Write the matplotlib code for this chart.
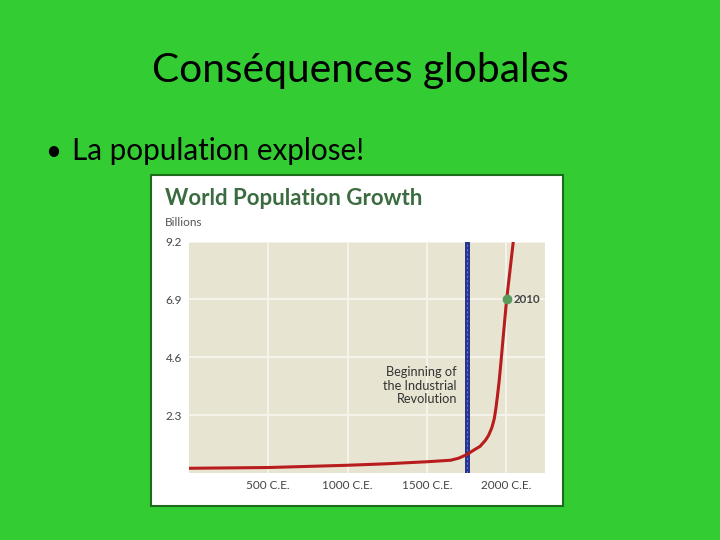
import matplotlib
matplotlib.use("Agg")
import matplotlib.pyplot as plt
from matplotlib.patches import Rectangle

# ---- data ----
years = [0, 500, 1000, 1250, 1500, 1650, 1700, 1750, 1800, 1835, 1870, 1890,
         1910, 1925, 1935, 1945, 1955, 1965, 1975, 1985, 1995, 2003, 2025, 2045]
population = [0.18, 0.21, 0.30, 0.36, 0.44, 0.50, 0.58, 0.72, 0.92, 1.05, 1.30,
              1.50, 1.80, 2.15, 2.55, 3.05, 3.60, 4.25, 4.95, 5.65, 6.35, 6.90,
              8.10, 9.20]
ytick_values = [2.3, 4.6, 6.9, 9.2]
ytick_labels = ["2.3", "4.6", "6.9", "9.2"]
xtick_values = [500, 1000, 1500, 2000]
xtick_labels = ["500 C.E.", "1000 C.E.", "1500 C.E.", "2000 C.E."]
industrial_year = 1750
marker_year = 2003
marker_value = 6.9
marker_label = "2010"

slide_title = "Conséquences globales"
bullet_text = "La population explose!"
chart_title = "World Population Growth"
unit_label = "Billions"
annotation = "Beginning of\nthe Industrial\nRevolution"

W, H = 720, 540
fig = plt.figure(figsize=(7.2, 5.4), dpi=100)
fig.patch.set_facecolor("#33cc33")

def fx(px):
    return px / W

def fy(py):
    return 1 - py / H

# slide texts
fig.text(fx(360), fy(82), slide_title, ha="center", va="baseline",
         fontsize=29.3, family="Lato", color="black")
fig.text(fx(45), fy(160), "•", ha="left", va="baseline", fontsize=20,
         family="Lato", color="black")
fig.text(fx(72), fy(160), bullet_text, ha="left", va="baseline", fontsize=21.3,
         family="Lato", color="black")

# white picture frame
frame = Rectangle((fx(151), fy(506)), fx(563) - fx(151), fy(175) - fy(506),
                  transform=fig.transFigure, facecolor="white",
                  edgecolor="#1e6b1e", linewidth=1.5, zorder=-1)
fig.patches.append(frame)

fig.text(fx(165), fy(205), chart_title, ha="left", va="baseline",
         fontsize=16, family="Lato", fontweight="bold", color="#3b6b40")
fig.text(fx(165), fy(226), unit_label, ha="left", va="baseline",
         fontsize=8.5, family="Lato", color="#555555")

# axes
ax = fig.add_axes([fx(189), fy(472.8), fx(545) - fx(189), fy(241.7) - fy(472.8)])
ax.set_zorder(1)
ax.set_facecolor("#e7e5d2")
ax.set_xlim(0, 2245)
ax.set_ylim(0, 9.2)
for s in ax.spines.values():
    s.set_visible(False)
ax.set_yticks(ytick_values)
ax.set_yticklabels(ytick_labels)
ax.set_xticks(xtick_values)
ax.set_xticklabels(xtick_labels)
ax.tick_params(length=0, labelsize=8.5, labelcolor="#444444", pad=5)
ax.tick_params(axis="y", pad=5)
for lab in ax.get_xticklabels() + ax.get_yticklabels():
    lab.set_family("Lato")
ax.grid(True, color="#f6f4ea", linewidth=1.4)
ax.set_axisbelow(True)

ax.axvline(industrial_year, color="#27358f", linewidth=3.6, zorder=3)
ax.axvline(industrial_year, color="#6a78c8", linewidth=0.8,
           linestyle=(0, (2, 2)), zorder=3)
ax.plot(years, population, color="#b81c1c", linewidth=2.2, zorder=4,
        clip_on=True, solid_joinstyle="round")
ax.plot([marker_year], [marker_value], "o", color="#5a9a5a", markersize=6,
        zorder=5)
ax.text(marker_year + 45, marker_value, marker_label, ha="left", va="center",
        fontsize=8.3, family="Lato", fontweight="bold", color="#444444")
ax.text(industrial_year - 60, 2.68, annotation, ha="right", va="bottom",
        fontsize=9.2, family="Lato", color="#333333", linespacing=1.15)

fig.savefig("out.png", dpi=100, facecolor=fig.get_facecolor())
